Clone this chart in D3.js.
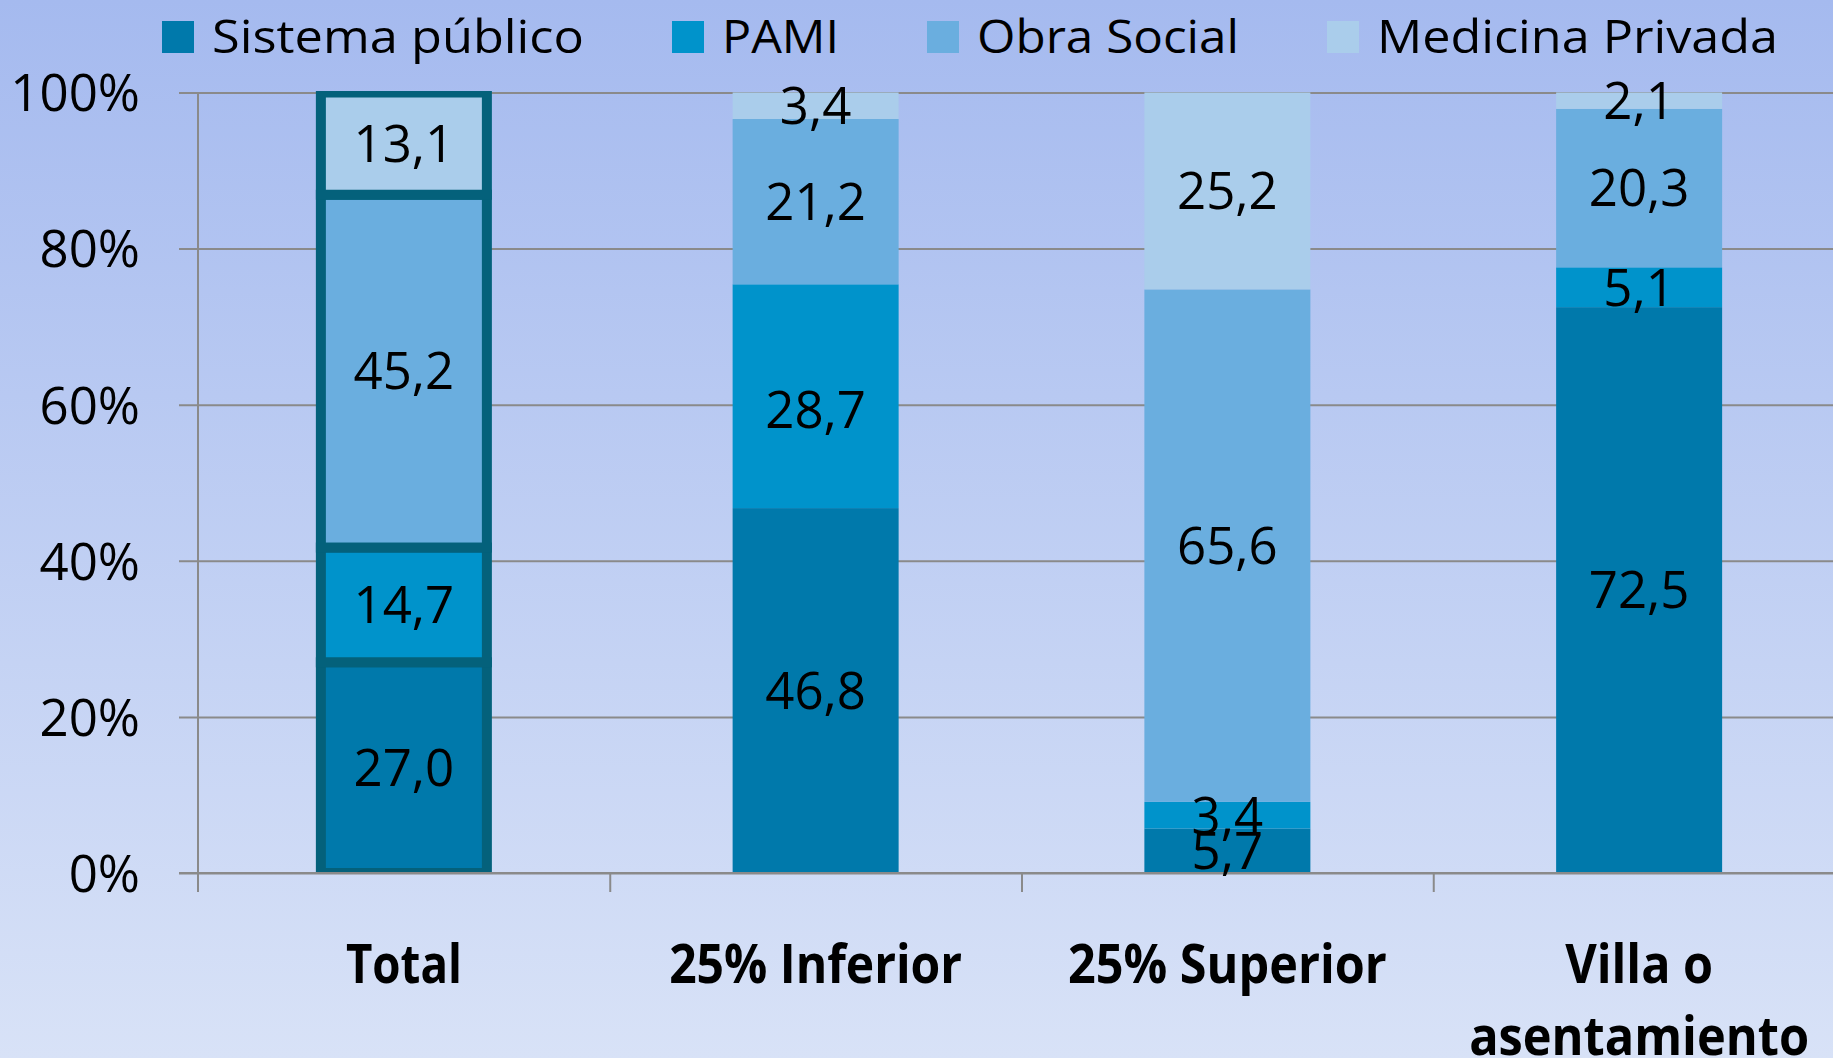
<!DOCTYPE html>
<html>
<head>
<meta charset="utf-8">
<script src="https://cdn.jsdelivr.net/npm/d3@7"></script>
<style>
  html, body { margin: 0; padding: 0; overflow: hidden; }
  svg { display: block; }
  text { font-family: "Open Sans", "Noto Sans", sans-serif; fill: #000; }
</style>
</head>
<body>
<svg id="chart" width="1833" height="1058"></svg>
<script>
// ---- Data ----
const categories = ["Total", "25% Inferior", "25% Superior", "Villa o asentamiento"];
const categoryLines = [["Total"], ["25% Inferior"], ["25% Superior"], ["Villa o", "asentamiento"]];
const seriesNames = ["Sistema público", "PAMI", "Obra Social", "Medicina Privada"];
const sistemaPublico = [27.0, 46.8, 5.7, 72.5];
const pami = [14.7, 28.7, 3.4, 5.1];
const obraSocial = [45.2, 21.2, 65.6, 20.3];
const medicinaPrivada = [13.1, 3.4, 25.2, 2.1];
const yTickValues = [0, 0.2, 0.4, 0.6, 0.8, 1];
const yTickLabels = ["0%", "20%", "40%", "60%", "80%", "100%"];

// ---- Styles ----
const colors = ["#0079AB", "#0093CB", "#6AAEDF", "#AACDEB"];
const highlightStroke = "#04617B";
const gridColor = "#8A8A8A";

const W = 1833, H = 1058;
const svg = d3.select("#chart");

// background gradient
const defs = svg.append("defs");
const grad = defs.append("linearGradient").attr("id", "bg").attr("x1", 0).attr("y1", 0).attr("x2", 0).attr("y2", 1);
grad.append("stop").attr("offset", "0%").attr("stop-color", "#A5BAEF");
grad.append("stop").attr("offset", "100%").attr("stop-color", "#D8E2F7");
svg.append("rect").attr("width", W).attr("height", H).attr("fill", "url(#bg)");

// ---- Scales ----
const axisX = 198, plotRight = 1845, y0 = 873, y1 = 92.5;
const x = d3.scaleBand().domain(categories).range([axisX, plotRight]).padding(0);
const y = d3.scaleLinear().domain([0, 1]).range([y0, y1]);
const barW = 166;

// ---- Stack ----
const rows = categories.map((c, i) => ({
  cat: c,
  "Sistema público": sistemaPublico[i],
  "PAMI": pami[i],
  "Obra Social": obraSocial[i],
  "Medicina Privada": medicinaPrivada[i]
}));
const stacked = d3.stack().keys(seriesNames).offset(d3.stackOffsetExpand)(rows);

// ---- Gridlines + y labels ----
const yAxis = d3.axisLeft(y)
  .tickValues(yTickValues)
  .tickFormat((d, i) => yTickLabels[i])
  .tickSize(-(plotRight - 179))
  .tickPadding(39);
const gy = svg.append("g").attr("transform", "translate(179,0)").call(yAxis);
gy.select(".domain").remove();
gy.selectAll(".tick line").attr("stroke", gridColor).attr("stroke-width", 2);
gy.selectAll(".tick text")
  .attr("font-size", 51).attr("fill", "#000")
  .attr("font-family", "'Open Sans', sans-serif")
  .attr("dy", "0.36em");

// vertical axis line
svg.append("line").attr("x1", axisX).attr("x2", axisX).attr("y1", y1).attr("y2", 892)
  .attr("stroke", gridColor).attr("stroke-width", 2);

// category tick marks via bottom axis
const xTicks = d3.axisBottom(d3.scaleLinear().domain([0, categories.length]).range([axisX, plotRight]))
  .tickValues(d3.range(1, categories.length + 1)).tickSize(19).tickFormat("");
const gx = svg.append("g").attr("transform", `translate(0,${y0})`).call(xTicks);
gx.select(".domain").remove();
gx.selectAll(".tick line").attr("stroke", gridColor).attr("stroke-width", 2);

// ---- Bars ----
defs.append("clipPath").attr("id", "plotclip")
  .append("rect").attr("x", 0).attr("y", y1 - 1.5).attr("width", W).attr("height", y0 - y1 + 1.5);

const barsG = svg.append("g").attr("clip-path", "url(#plotclip)");
stacked.forEach((layer, si) => {
  layer.forEach((seg, ci) => {
    const cx = x(categories[ci]) + x.bandwidth() / 2;
    const r = barsG.append("rect")
      .attr("x", cx - barW / 2)
      .attr("y", y(seg[1]))
      .attr("width", barW)
      .attr("height", y(seg[0]) - y(seg[1]))
      .attr("fill", colors[si]);
    if (ci === 0) {
      r.attr("stroke", highlightStroke).attr("stroke-width", 10);
    }
  });
});

// x baseline on top
svg.append("line").attr("x1", 179).attr("x2", W).attr("y1", y0).attr("y2", y0)
  .attr("stroke", gridColor).attr("stroke-width", 2);

// ---- Data labels ----
const seriesValues = [sistemaPublico, pami, obraSocial, medicinaPrivada];
// manual label nudges seen in the original (series index, category index) -> dy px
const labelNudge = { "1-1": 13 };
stacked.forEach((layer, si) => {
  layer.forEach((seg, ci) => {
    const cx = x(categories[ci]) + x.bandwidth() / 2;
    const cy = (y(seg[0]) + y(seg[1])) / 2 + (labelNudge[si + "-" + ci] || 0);
    svg.append("text")
      .attr("x", cx).attr("y", cy).attr("dy", "0.36em")
      .attr("text-anchor", "middle")
      .attr("font-size", 51)
      .text(seriesValues[si][ci].toFixed(1).replace(".", ","));
  });
});

// ---- Category labels ----
const catWidths = [[116], [293], [319], [148, 340]];
categoryLines.forEach((lines, ci) => {
  const cx = x(categories[ci]) + x.bandwidth() / 2;
  lines.forEach((ln, li) => {
    svg.append("text")
      .attr("x", cx).attr("y", 983 + li * 72)
      .attr("text-anchor", "middle")
      .attr("font-size", 53).attr("font-weight", 700)
      .attr("textLength", catWidths[ci][li]).attr("lengthAdjust", "spacingAndGlyphs")
      .text(ln);
  });
});

// ---- Legend ----
const legendTextWidths = [372, 117, 262, 401];
let lx = 162;
seriesNames.forEach((name, i) => {
  svg.append("rect").attr("x", lx).attr("y", 21).attr("width", 32).attr("height", 32).attr("fill", colors[i]);
  svg.append("text").attr("x", lx + 50).attr("y", 53)
    .attr("font-size", 46)
    .attr("textLength", legendTextWidths[i]).attr("lengthAdjust", "spacingAndGlyphs")
    .text(name);
  lx += 50 + legendTextWidths[i] + 88;
});
</script>
</body>
</html>
